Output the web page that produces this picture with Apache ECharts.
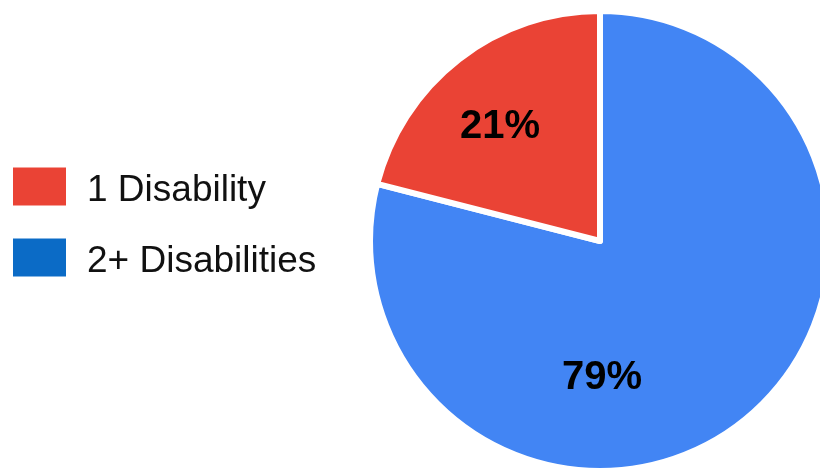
<!DOCTYPE html>
<html>
<head>
<meta charset="utf-8">
<script src="https://cdn.jsdelivr.net/npm/echarts@6/dist/echarts.min.js"></script>
<style>
  html, body { margin: 0; padding: 0; background: #ffffff; }
  #chart { width: 820px; height: 475px; }
</style>
</head>
<body>
<div id="chart"></div>
<script>
// Share of people by number of disabilities
const categories = ['2+ Disabilities', '1 Disability'];
const values = [79, 21];
const sliceColors = ['#4285F4', '#EA4335'];
const legendOrder = ['1 Disability', '2+ Disabilities'];
const legendColors = { '1 Disability': '#EA4335', '2+ Disabilities': '#0B6BC6' };

const cx = 600, cy = 241, R = 230;
// label anchor offsets from the pie centre, per slice
const labelOffsets = [[2, 137], [-100, -114]];

const chart = echarts.init(document.getElementById('chart'), null, { renderer: 'canvas' });

chart.setOption({
  animation: false,
  legend: {
    orient: 'vertical',
    left: 11,
    top: 164,
    padding: 0,
    icon: 'rect',
    itemWidth: 55,
    itemHeight: 40,
    itemGap: 26,
    data: legendOrder.map(n => ({ name: n, itemStyle: { color: legendColors[n] } })),
    formatter: name => '{t|' + name + '}',
    textStyle: {
      padding: [0, 0, 0, 15],
      rich: {
        t: {
          fontFamily: '"Liberation Sans", Arial, sans-serif',
          fontSize: 37,
          lineHeight: 34,
          color: '#111111',
          padding: [8, 0, 0, 0]
        }
      }
    }
  },
  series: [{
    type: 'pie',
    center: [cx, cy],
    radius: [0, R],
    startAngle: 90,
    clockwise: true,
    avoidLabelOverlap: false,
    itemStyle: { borderColor: '#ffffff', borderWidth: 6 },
    label: {
      show: true,
      position: 'inside',
      formatter: p => p.value + '%',
      fontFamily: '"Liberation Sans", Arial, sans-serif',
      fontSize: 40,
      fontWeight: 'bold',
      color: '#000000'
    },
    labelLine: { show: false },
    labelLayout: p => ({
      x: cx + labelOffsets[p.dataIndex][0],
      y: cy + labelOffsets[p.dataIndex][1],
      align: 'center',
      verticalAlign: 'middle'
    }),
    emphasis: { disabled: true },
    data: categories.map((c, i) => ({ name: c, value: values[i], itemStyle: { color: sliceColors[i] } }))
  }]
});
</script>
</body>
</html>
